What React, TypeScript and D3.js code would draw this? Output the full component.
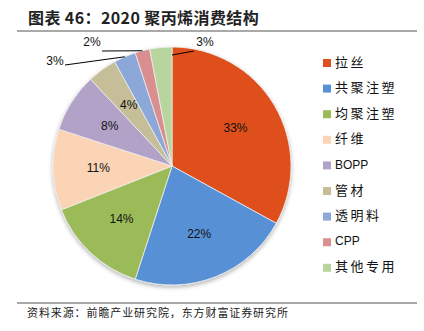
import React from "react";
import * as d3 from "d3";

const categories = ["拉丝", "共聚注塑", "均聚注塑", "纤维", "BOPP", "管材", "透明料", "CPP", "其他专用"];
const values = [33, 22, 14, 11, 8, 4, 3, 2, 3];
const colors = ["#DF501F", "#5890D6", "#9BBB59", "#FBD4B6", "#B3A2C7", "#C5BE98", "#8BA8D8", "#D98F8F", "#B8D59D"];
const labels = ["33%", "22%", "14%", "11%", "8%", "4%", "3%", "2%", "3%"];

const W = 424, H = 331;
const cx = 172, cy = 166, R = 119;

export default function App() {
  const pie = d3.pie<number>().value((d) => d).sort(null)(values);
  const arc = d3.arc<d3.PieArcDatum<number>>().innerRadius(0).outerRadius(R);
  const labelArc = d3.arc<d3.PieArcDatum<number>>().innerRadius(R * 0.62).outerRadius(R * 0.62);
  const outsideArc = d3.arc<d3.PieArcDatum<number>>().innerRadius(R).outerRadius(R);

  // outside label positions (relative to center) for the small slices
  const outside: Record<number, { tx: number; ty: number; lx: number; ly: number; end?: [number, number] }> = {
    6: { tx: -117, ty: -104, lx: -107, ly: -101 },
    7: { tx: -80, ty: -123, lx: -70, ly: -115 },
    8: { tx: 33, ty: -123, lx: 22, ly: -115, end: [0, -111] },
  };

  const legendY = (i: number) => 63 + i * 25.6;
  const isLatin = (s: string) => /^[A-Za-z]+$/.test(s);

  return (
    <svg width={W} height={H} style={{ position: "absolute", left: 0, top: 0, background: "#fff" }}>
      <defs>
        <filter id="sh" x="-20%" y="-20%" width="140%" height="140%">
          <feDropShadow dx="0" dy="2" stdDeviation="2" floodColor="#000" floodOpacity="0.3" />
        </filter>
      </defs>
      <text x={28} y={24} fontFamily="'Noto Sans CJK SC', sans-serif" fontWeight="bold" fontSize={16} letterSpacing={0.4} fill="#222">
        图表 46：2020 聚丙烯消费结构
      </text>
      <line x1={17} x2={417} y1={31} y2={31} stroke="#555" strokeWidth={1.2} />
      <g transform={`translate(${cx},${cy})`}>
        <g filter="url(#sh)">
          {pie.map((p, i) => (
            <path key={i} d={arc(p) || ""} fill={colors[i]} stroke="#EEE" strokeWidth={0.8} />
          ))}
        </g>
        {pie.map((p, i) => {
          const o = outside[i];
          if (o) {
            const [ex, ey] = o.end ? o.end : outsideArc.centroid(p);
            return (
              <g key={i}>
                <polyline points={`${o.lx},${o.ly} ${ex},${ey}`} fill="none" stroke="#000" strokeWidth={1} />
                <text x={o.tx} y={o.ty} textAnchor="middle" dominantBaseline="middle"
                  fontFamily="'Liberation Sans', Arial, sans-serif" fontSize={12} fill="#111">{labels[i]}</text>
              </g>
            );
          }
          const [x, y] = labelArc.centroid(p);
          return (
            <text key={i} x={x} y={y} textAnchor="middle" dominantBaseline="middle"
              fontFamily="'Liberation Sans', Arial, sans-serif" fontSize={12} fill="#111">{labels[i]}</text>
          );
        })}
      </g>
      {categories.map((c, i) => (
        <g key={c}>
          <rect x={323} y={legendY(i) - 4} width={8} height={8} fill={colors[i]} />
          <text x={335} y={legendY(i)} dominantBaseline="middle"
            fontFamily={isLatin(c) ? "'Liberation Sans', Arial, sans-serif" : "'Noto Sans CJK SC', sans-serif"}
            fontSize={isLatin(c) ? 12 : 13} letterSpacing={isLatin(c) ? 0 : 2.5} fill="#111">{c}</text>
        </g>
      ))}
      <line x1={17} x2={417} y1={303} y2={303} stroke="#555" strokeWidth={1.2} />
      <text x={27} y={317} fontFamily="'Noto Sans CJK SC', sans-serif" fontSize={11} letterSpacing={0.9} fill="#222">
        资料来源：前瞻产业研究院，东方财富证券研究所
      </text>
    </svg>
  );
}
